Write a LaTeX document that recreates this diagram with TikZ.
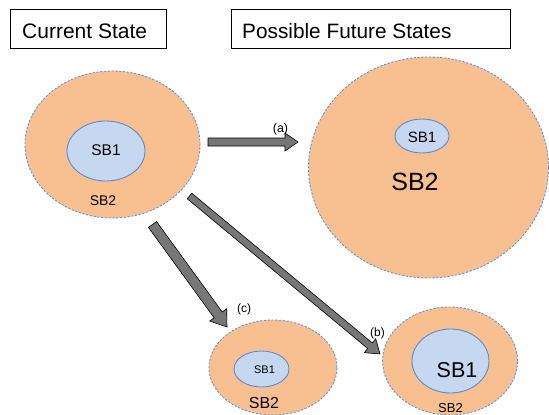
\documentclass[tikz,border=0pt]{standalone}
\usepackage{fontspec}
\setmainfont{Liberation Sans}
\usetikzlibrary{shapes.geometric,calc}
\definecolor{sbtwo}{HTML}{F8C090}
\definecolor{sbone}{HTML}{C6D8F0}
\definecolor{sbonedraw}{HTML}{5B8AD0}
\definecolor{dashblue}{HTML}{5F8FD4}
\definecolor{arrowgray}{HTML}{777777}
\tikzset{
  outerell/.style={ellipse, fill=sbtwo, draw=dashblue, dash pattern=on 2.2pt off 1.6pt, line width=0.85pt, inner sep=0pt},
  innerell/.style={ellipse, fill=sbone, draw=sbonedraw, line width=0.9pt, inner sep=0pt},
  titlebox/.style={draw=black, line width=0.8pt, inner sep=0pt},
  lbl/.style={inner sep=0pt, text=black},
}
\newcommand{\fs}[1]{\fontsize{#1}{#1}\selectfont}
% tail, tip, shaft half width, head half width, head length
\newcommand{\fatarrow}[5]{%
  \coordinate (hb) at ($(#2)!#5!(#1)$);
  \filldraw[fill=arrowgray, draw=black, line width=0.6pt, line join=miter]
    ($(#1)!#3!90:(#2)$) -- ($(hb)!#3!90:(#2)$) -- ($(hb)!#4!90:(#2)$) -- (#2)
    -- ($(hb)!#4!-90:(#2)$) -- ($(hb)!#3!-90:(#2)$) -- ($(#1)!#3!-90:(#2)$) -- cycle;
}
\begin{document}
\begin{tikzpicture}[x=1pt,y=-1pt]
\useasboundingbox (0,0) rectangle (549,415);
% title boxes
\node[titlebox, minimum width=156pt, minimum height=39pt] (cbox) at (88,28.5) {};
\node[titlebox, minimum width=279pt, minimum height=39pt] (fbox) at (370.5,28.5) {};
\node[lbl, anchor=base west] (ctext) at (22,38) {\fs{21}Current State};
\node[lbl, anchor=base west] (ftext) at (242,38) {\fs{20.8}Possible Future States};
% current state
\node[outerell, minimum width=175pt, minimum height=147pt] (cur) at (112.5,144.5) {};
\node[innerell, minimum width=78pt, minimum height=60pt] (cur1) at (106,151) {};
\node[lbl] (cur1t) at (106,150.5) {\fs{15.5}SB1};
\node[lbl] (cur2t) at (103,201) {\fs{14}SB2};
% future a
\node[outerell, minimum width=240pt, minimum height=221pt] (fa) at (428.5,167.5) {};
\node[innerell, minimum width=54pt, minimum height=34pt] (fa1) at (422,136) {};
\node[lbl] (fa1t) at (422,137) {\fs{15}SB1};
\node[lbl] (fa2t) at (415,182) {\fs{25}SB2};
% future c
\node[outerell, minimum width=128pt, minimum height=95pt] (fc) at (273,367.5) {};
\node[innerell, minimum width=55pt, minimum height=36pt] (fc1) at (261.5,369) {};
\node[lbl] (fc1t) at (264.5,370) {\fs{11}SB1};
\node[lbl] (fc2t) at (264,403) {\fs{16}SB2};
% future b
\node[outerell, minimum width=135pt, minimum height=108pt] (fb) at (450,361) {};
\node[innerell, minimum width=77pt, minimum height=64pt] (fb1) at (450.5,361) {};
\node[lbl] (fb1t) at (457,370) {\fs{21.5}SB1};
\node[lbl] (fb2t) at (450.5,408) {\fs{13}SB2};
% arrows
\coordinate (atail) at (208,142);
\coordinate (atip) at (298,142);
\coordinate (ctail) at (152.5,224.5);
\coordinate (ctip) at (227,327);
\coordinate (btail) at (189.5,196);
\coordinate (btip) at (380,354);
\fatarrow{atail}{atip}{4pt}{9pt}{13pt}
\fatarrow{ctail}{ctip}{5pt}{10.5pt}{15pt}
\fatarrow{btail}{btip}{3.6pt}{9pt}{13pt}
\node[lbl] (alab) at (280.5,129) {\fs{12.5}(a)};
\node[lbl] (clab) at (244,309) {\fs{12}(c)};
\node[lbl] (blab) at (377.5,333) {\fs{12}(b)};
\end{tikzpicture}
\end{document}
